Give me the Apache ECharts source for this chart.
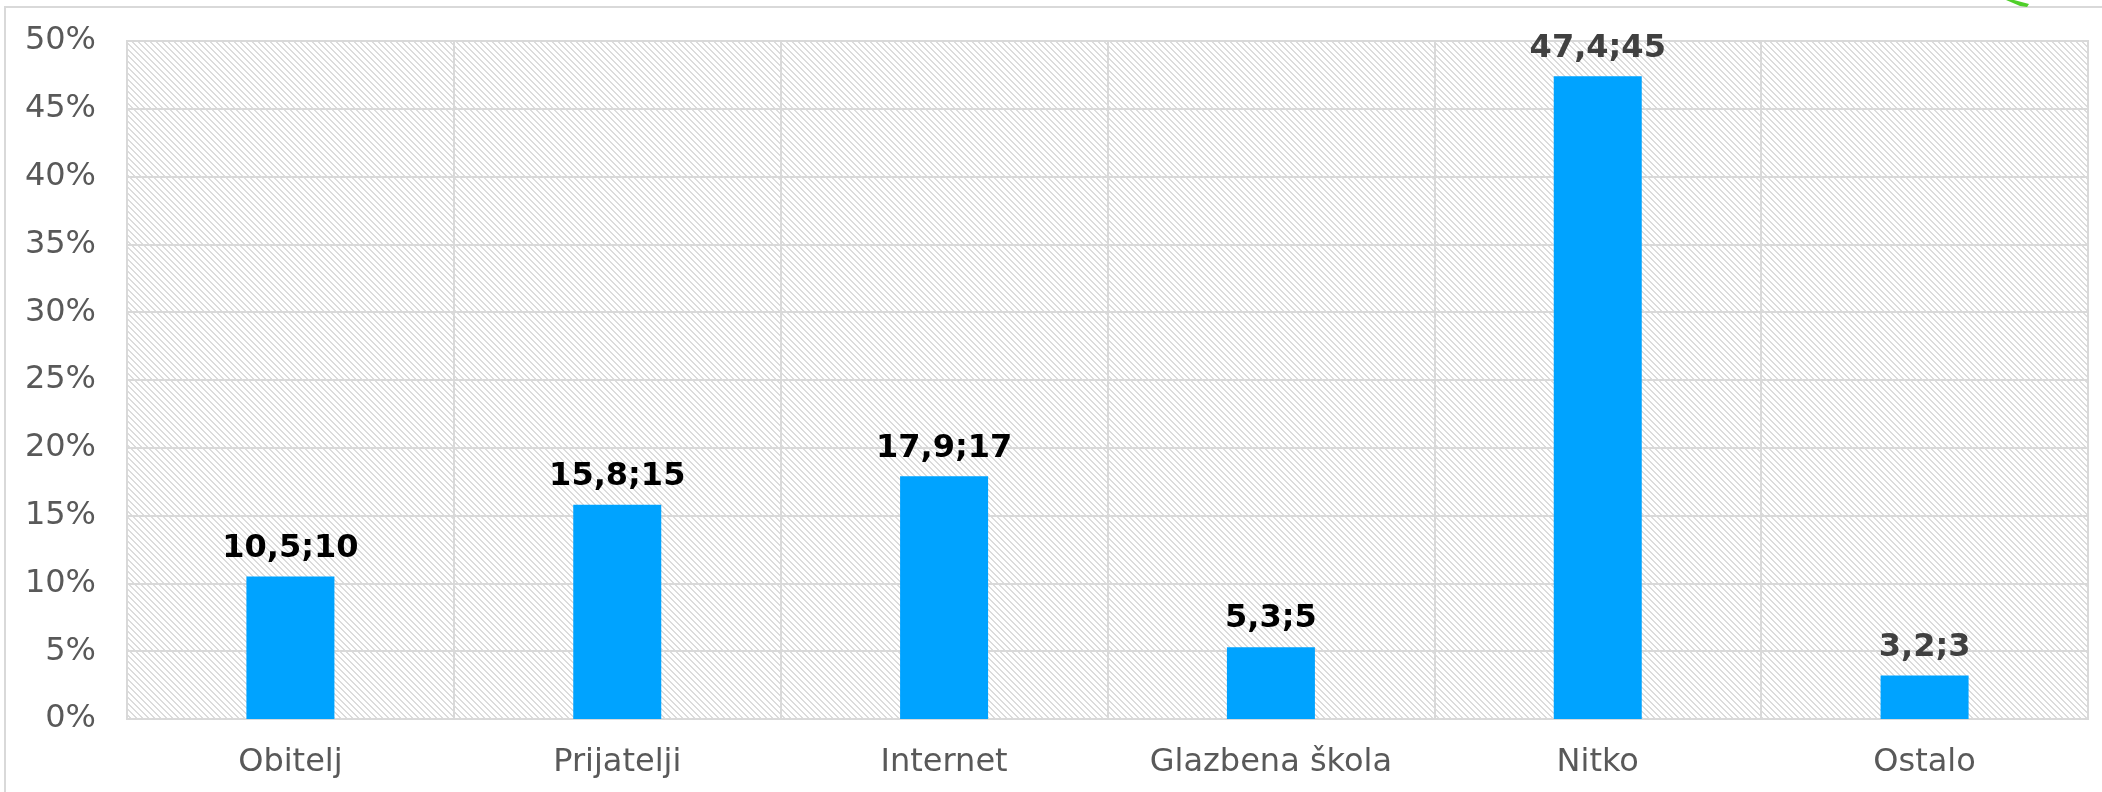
<!DOCTYPE html>
<html>
<head>
<meta charset="utf-8">
<script src="https://cdn.jsdelivr.net/npm/echarts@6/dist/echarts.min.js"></script>
<style>
html,body{margin:0;padding:0;background:#fff;}
#c{width:2102px;height:792px;}
</style>
</head>
<body>
<div id="c"></div>
<script>
const categories = ['Obitelj', 'Prijatelji', 'Internet', 'Glazbena škola', 'Nitko', 'Ostalo'];
const values = [10.5, 15.8, 17.9, 5.3, 47.4, 3.2];
const labelTexts = ['10,5;10', '15,8;15', '17,9;17', '5,3;5', '47,4;45', '3,2;3'];
const labelColors = ['#000000', '#000000', '#000000', '#000000', '#404040', '#404040'];
const yTicks = [0, 5, 10, 15, 20, 25, 30, 35, 40, 45, 50];

// hatch pattern
const tile = document.createElement('canvas');
tile.width = 6; tile.height = 6;
const tctx = tile.getContext('2d');
tctx.fillStyle = '#ffffff';
tctx.fillRect(0, 0, 6, 6);
tctx.fillStyle = '#dcdcdc';
for (let i = 0; i < 6; i++) {
  tctx.fillRect(i, i, 1, 1);
  tctx.fillRect((i + 1) % 6, i, 1, 1);
}

const chart = echarts.init(document.getElementById('c'), null, {renderer: 'canvas'});
const font = '"DejaVu Sans", Verdana, sans-serif';
chart.setOption({
  animation: false,
  grid: {
    left: 127, right: 14, top: 41, bottom: 73,
    show: true,
    backgroundColor: {image: tile, repeat: 'repeat'},
    borderColor: '#d9d9d9',
    borderWidth: 2
  },
  graphic: [
    {type: 'rect', shape: {x: 5, y: 7, width: 2300, height: 1000},
     style: {fill: 'none', stroke: '#d9d9d9', lineWidth: 2}, z: -10},
    {type: 'polygon', shape: {points: [[2006, 0], [2014, 0], [2029, 4], [2027, 7], [2020, 6]]},
     style: {fill: '#4fcf2a'}}
  ],
  xAxis: {
    type: 'category',
    data: categories,
    boundaryGap: true,
    axisLine: {show: true, lineStyle: {color: '#d9d9d9', width: 2}},
    axisTick: {show: false},
    splitLine: {show: true, lineStyle: {color: '#d9d9d9', width: 2}},
    axisLabel: {color: '#595959', fontSize: 32, fontFamily: font, margin: 28}
  },
  yAxis: {
    type: 'value',
    min: yTicks[0], max: yTicks[yTicks.length - 1], interval: 5,
    axisLine: {show: false},
    axisTick: {show: false},
    splitLine: {show: true, lineStyle: {color: '#d9d9d9', width: 2}},
    axisLabel: {color: '#595959', fontSize: 32, fontFamily: font, margin: 31,
      formatter: v => v + '%'}
  },
  series: [{
    type: 'bar',
    data: values.map((v, i) => ({
      value: v,
      label: {color: labelColors[i]}
    })),
    barWidth: 88,
    itemStyle: {color: '#00a3ff'},
    label: {
      show: true,
      position: 'top',
      distance: 12,
      fontSize: 32,
      fontWeight: 'bold',
      fontFamily: font,
      formatter: p => labelTexts[p.dataIndex]
    }
  }]
});
</script>
</body>
</html>
